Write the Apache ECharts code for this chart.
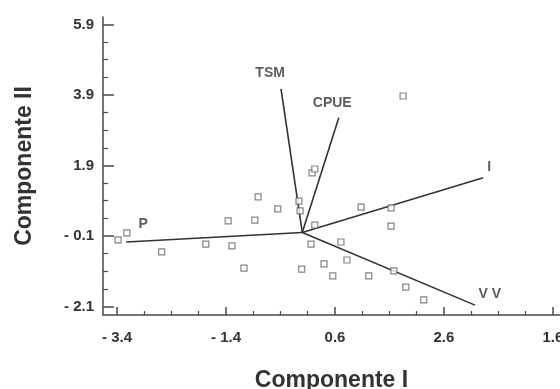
<!DOCTYPE html>
<html>
<head>
<meta charset="utf-8">
<script src="https://cdn.jsdelivr.net/npm/echarts@6/dist/echarts.min.js"></script>
<style>
  html, body { margin: 0; background: #fff; }
  #grafico { width: 560px; height: 389px; }
</style>
</head>
<body>
<div id="grafico"></div>
<script>
// puntos (scores)
var puntosX = [-0.81, -0.45, -0.06, -0.04, -1.36, -0.87, 0.23, 1.08, 1.63, 1.63,
  -3.38, -3.22, -2.58, -1.77, -1.29, -1.07, -0.01, 0.16, 0.71, 0.40,
  0.82, 0.56, 1.22, 1.68, 1.90, 2.23, 0.18, 0.23, 1.85];
var puntosY = [1.01, 0.67, 0.89, 0.61, 0.33, 0.35, 0.21, 0.72, 0.70, 0.18,
  -0.21, -0.01, -0.55, -0.33, -0.38, -1.01, -1.04, -0.33, -0.27, -0.89,
  -0.78, -1.23, -1.23, -1.09, -1.55, -1.91, 1.69, 1.80, 3.87];

// vetores das variaveis
var variaveis = ['P', 'TSM', 'CPUE', 'I', 'V V'];
var vetorX = [-3.23, -0.39, 0.67, 3.32, 3.17];
var vetorY = [-0.27, 4.07, 3.25, 1.55, -2.06];
var rotuloX = [-2.92, -0.59, 0.55, 3.43, 3.44];
var rotuloY = [0.24, 4.52, 3.67, 1.86, -1.74];

// eixos
var ticksX = [-3.4, -1.4, 0.6, 2.6, 4.6];
var labelsX = ['- 3.4', '- 1.4', '0.6', '2.6', '1.6'];
var ticksY = [-2.1, -0.1, 1.9, 3.9, 5.9];
var labelsY = ['- 2.1', '- 0.1', '1.9', '3.9', '5.9'];

var minX = -3.657, maxX = 4.73;
var minY = -2.34, maxY = 6.11;

function menores (ini, passo, max, maiores) {
  var r = [];
  for (var v = ini; v <= max; v += passo) {
    var rv = Math.round(v * 10) / 10;
    if (maiores.indexOf(rv) < 0) r.push(rv);
  }
  return r;
}
var minorX = menores(-3.4, 0.5, maxX, ticksX);
var minorY = menores(-2.1, 0.5, maxY, ticksY);

function rotulo (ticks, labels) {
  return function (v) {
    for (var i = 0; i < ticks.length; i++) {
      if (Math.abs(ticks[i] - v) < 1e-6) return labels[i];
    }
    return '';
  };
}

var chartDom = document.getElementById('grafico');
var myChart = echarts.init(chartDom);
var option;

var corEixo = '#4a4a4a';
var corTexto = '#333';
var fonte = 'Liberation Sans, Arial, sans-serif';

var series = [];
series.push({
  type: 'scatter',
  symbol: 'rect',
  symbolSize: 6,
  itemStyle: { color: '#fff', borderColor: '#666', borderWidth: 1.2 },
  data: puntosX.map(function (x, i) { return [x, puntosY[i]]; }),
  z: 3
});
variaveis.forEach(function (nome, i) {
  series.push({
    type: 'line',
    symbol: 'none',
    lineStyle: { color: '#333', width: 1.6 },
    data: [[0, 0], [vetorX[i], vetorY[i]]],
    z: 2
  });
});
series.push({
  type: 'scatter',
  symbolSize: 0,
  data: variaveis.map(function (n, i) { return { value: [rotuloX[i], rotuloY[i]], name: n }; }),
  label: {
    show: true,
    position: 'inside',
    formatter: '{b}',
    color: corTexto,
    fontWeight: 'bold',
    fontSize: 14,
    fontFamily: fonte
  },
  z: 4
});

option = {
  animation: false,
  backgroundColor: '#fff',
  grid: { left: 103, top: 17, right: 0, bottom: 74, outerBoundsMode: 'none', containLabel: false },
  xAxis: [
    {
      type: 'value', min: minX, max: maxX,
      name: 'Componente I', nameLocation: 'middle', nameGap: 54,
      nameTextStyle: { color: corTexto, fontWeight: 'bold', fontSize: 23, fontFamily: fonte },
      axisLine: { onZero: false, lineStyle: { color: corEixo, width: 1.5 } },
      axisTick: { customValues: ticksX, inside: true, length: 8, lineStyle: { color: corEixo, width: 1.5 } },
      axisLabel: { customValues: ticksX, formatter: rotulo(ticksX, labelsX), margin: 15,
        color: corTexto, fontWeight: 'bold', fontSize: 15, fontFamily: fonte },
      splitLine: { show: false }
    },
    {
      type: 'value', min: minX, max: maxX, position: 'bottom',
      axisLine: { show: false, onZero: false },
      axisTick: { customValues: minorX, inside: true, length: 4, lineStyle: { color: corEixo, width: 1.2 } },
      axisLabel: { show: false, customValues: minorX },
      splitLine: { show: false }
    }
  ],
  yAxis: [
    {
      type: 'value', min: minY, max: maxY,
      name: 'Componente II', nameLocation: 'middle', nameGap: 67,
      nameTextStyle: { color: corTexto, fontWeight: 'bold', fontSize: 23, fontFamily: fonte },
      axisLine: { onZero: false, lineStyle: { color: corEixo, width: 1.5 } },
      axisTick: { customValues: ticksY, inside: true, length: 11, lineStyle: { color: corEixo, width: 1.5 } },
      axisLabel: { customValues: ticksY, formatter: rotulo(ticksY, labelsY), margin: 9,
        color: corTexto, fontWeight: 'bold', fontSize: 15, fontFamily: fonte },
      splitLine: { show: false }
    },
    {
      type: 'value', min: minY, max: maxY, position: 'left',
      axisLine: { show: false, onZero: false },
      axisTick: { customValues: minorY, inside: true, length: 5, lineStyle: { color: corEixo, width: 1.2 } },
      axisLabel: { show: false, customValues: minorY },
      splitLine: { show: false }
    }
  ],
  series: series
};

option && myChart.setOption(option);
</script>
</body>
</html>
